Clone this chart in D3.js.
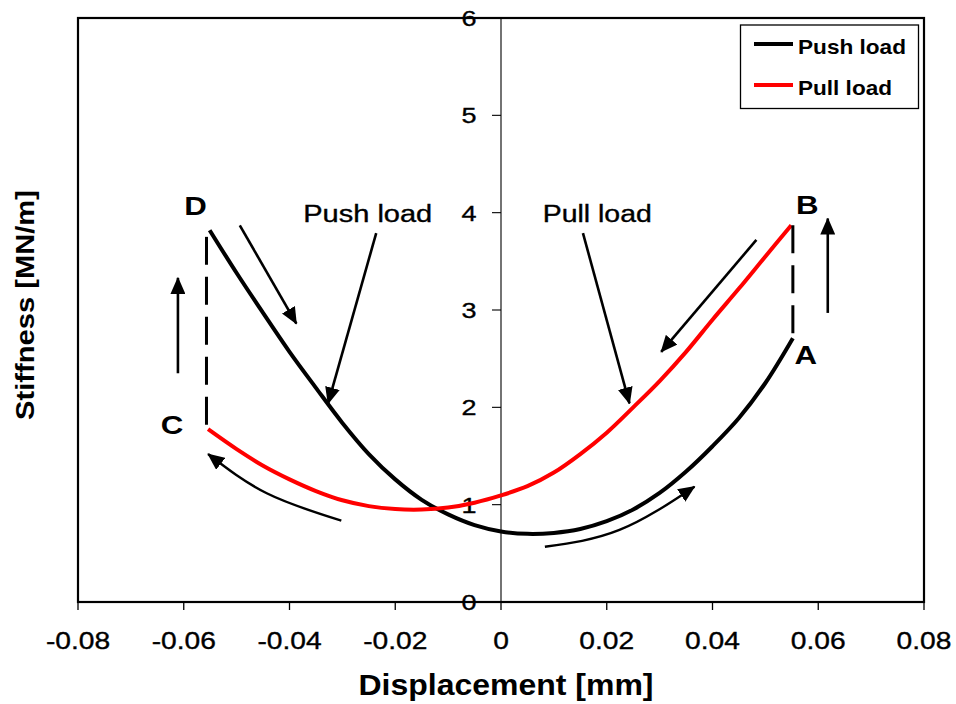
<!DOCTYPE html>
<html>
<head>
<meta charset="utf-8">
<script src="https://cdn.jsdelivr.net/npm/d3@7"></script>
<style>
  html, body { margin: 0; padding: 0; background: #fff; }
  svg { display: block; font-family: "Liberation Sans", Arial, sans-serif; }
  .reg { fill: #000; stroke: #000; stroke-width: 0.35px; }
</style>
</head>
<body>
<svg id="chart" width="956" height="704"></svg>
<script>
// Axis ticks
const xTicks = [-0.08, -0.06, -0.04, -0.02, 0, 0.02, 0.04, 0.06, 0.08];
const yTicks = [0, 1, 2, 3, 4, 5, 6];

// Push load branch (D -> A), displacement [mm] vs stiffness [MN/m]
const pushX = [-0.0551, -0.050, -0.045, -0.040, -0.035, -0.030, -0.025, -0.020, -0.015, -0.010, -0.005, 0.000, 0.005, 0.010, 0.015, 0.020, 0.025, 0.030, 0.035, 0.040, 0.045, 0.050, 0.0552];
const pushY = [3.82, 3.38, 2.97, 2.57, 2.20, 1.84, 1.52, 1.26, 1.05, 0.90, 0.79, 0.725, 0.70, 0.71, 0.75, 0.83, 0.95, 1.12, 1.34, 1.60, 1.89, 2.25, 2.71];

// Pull load branch (B -> C)
const pullX = [-0.0554, -0.050, -0.045, -0.040, -0.035, -0.030, -0.025, -0.020, -0.015, -0.010, -0.005, 0.000, 0.005, 0.010, 0.015, 0.020, 0.025, 0.030, 0.035, 0.040, 0.045, 0.050, 0.0549];
const pullY = [1.775, 1.57, 1.40, 1.26, 1.14, 1.045, 0.985, 0.955, 0.95, 0.97, 1.02, 1.095, 1.19, 1.33, 1.52, 1.74, 2.00, 2.27, 2.57, 2.90, 3.22, 3.55, 3.87];

// Stiffness jumps at the reversal points (A -> B and C -> D)
const jumpAB = [[0.0552, 2.76], [0.0552, 3.89]];
const jumpCD = [[-0.0557, 1.82], [-0.0557, 3.77]];

// Direction arrows [x, y] in data units (last point carries the head)
const straightArrows = [
  [[-0.0611, 2.35], [-0.0611, 3.33]],
  [[0.0618, 2.97], [0.0618, 3.94]],
  [[-0.0494, 3.87], [-0.0387, 2.86]],
  [[-0.0236, 3.79], [-0.0327, 2.04]],
  [[0.0155, 3.79], [0.0243, 2.04]],
  [[0.0483, 3.72], [0.0303, 2.57]]
];
const curvedArrows = [
  [[-0.0302, 0.836], [-0.0443, 1.117], [-0.0554, 1.52]],
  [[0.0083, 0.568], [0.0224, 0.74], [0.0366, 1.185]]
];

// Point labels and branch captions
const pointLabels = [
  { text: "D", x: -0.0551, y: 3.82 },
  { text: "C", x: -0.0554, y: 1.775 },
  { text: "B", x: 0.0549, y: 3.87 },
  { text: "A", x: 0.0552, y: 2.71 }
];
const captions = [
  { text: "Push load", x: -0.0374, y: 3.905 },
  { text: "Pull load", x: 0.0079, y: 3.905 }
];
const legendItems = [
  { text: "Push load", color: "#000000" },
  { text: "Pull load", color: "#ff0000" }
];

const svg = d3.select("#chart");
const plotLeft = 78, plotRight = 924, plotTop = 18, plotBottom = 602;

const x = d3.scaleLinear().domain([-0.08, 0.08]).range([plotLeft, plotRight]);
const y = d3.scaleLinear().domain([0, 6]).range([plotBottom, plotTop]);

// Arrow head marker
svg.append("defs").append("marker")
  .attr("id", "head")
  .attr("markerUnits", "userSpaceOnUse")
  .attr("viewBox", "0 0 17 15")
  .attr("refX", 16).attr("refY", 7.5)
  .attr("markerWidth", 17).attr("markerHeight", 15)
  .attr("orient", "auto")
  .append("path").attr("d", "M0,0 L17,7.5 L0,15 Z").attr("fill", "#000");

// Plot frame
svg.append("rect")
  .attr("x", plotLeft).attr("y", plotTop)
  .attr("width", plotRight - plotLeft).attr("height", plotBottom - plotTop)
  .attr("fill", "none").attr("stroke", "#000").attr("stroke-width", 2.2);

// Vertical axis at zero displacement
svg.append("line")
  .attr("x1", x(0)).attr("x2", x(0)).attr("y1", y(6)).attr("y2", y(0))
  .attr("stroke", "#000").attr("stroke-width", 1.1);

// Y ticks and labels
svg.append("g").selectAll("line").data(yTicks).join("line")
  .attr("x1", x(0) - 9).attr("x2", x(0))
  .attr("y1", d => y(d)).attr("y2", d => y(d))
  .attr("stroke", "#000").attr("stroke-width", 1.1);
svg.append("g").selectAll("text").data(yTicks).join("text")
  .attr("class", "reg")
  .attr("transform", d => `translate(${x(0) - 24.5},${y(d) + 8}) scale(1.2,1)`)
  .attr("text-anchor", "end")
  .attr("font-size", 22.5)
  .text(d => d);

// X ticks and labels
svg.append("g").selectAll("line").data(xTicks).join("line")
  .attr("x1", d => x(d)).attr("x2", d => x(d))
  .attr("y1", plotBottom).attr("y2", plotBottom + 8)
  .attr("stroke", "#000").attr("stroke-width", 1.3);
svg.append("g").selectAll("text").data(xTicks).join("text")
  .attr("class", "reg")
  .attr("transform", d => `translate(${x(d)},${plotBottom + 46.5}) scale(1.2,1)`)
  .attr("text-anchor", "middle")
  .attr("font-size", 23.5)
  .text(d => d === 0 ? "0" : d.toFixed(2));

// Axis titles
svg.append("text")
  .attr("x", (plotLeft + plotRight) / 2 + 5).attr("y", 695)
  .attr("text-anchor", "middle")
  .attr("font-size", 30).attr("font-weight", "bold")
  .attr("textLength", 295).attr("lengthAdjust", "spacingAndGlyphs")
  .text("Displacement [mm]");
svg.append("text")
  .attr("transform", `translate(34,305) rotate(-90)`)
  .attr("text-anchor", "middle")
  .attr("font-size", 26).attr("font-weight", "bold")
  .attr("textLength", 230).attr("lengthAdjust", "spacingAndGlyphs")
  .text("Stiffness [MN/m]");

// Curves
const line = d3.line().x(d => x(d[0])).y(d => y(d[1])).curve(d3.curveCatmullRom.alpha(0.5));
const pushPts = pushX.map((v, i) => [v, pushY[i]]);
const pullPts = pullX.map((v, i) => [v, pullY[i]]);

svg.append("path").datum(pushPts).attr("d", line)
  .attr("fill", "none").attr("stroke", "#000").attr("stroke-width", 4);
svg.append("path").datum(pullPts).attr("d", line)
  .attr("fill", "none").attr("stroke", "#ff0000").attr("stroke-width", 4);

// Dashed jumps
const seg = d3.line().x(d => x(d[0])).y(d => y(d[1]));
[jumpAB, jumpCD].forEach(j => {
  svg.append("path").datum(j).attr("d", seg)
    .attr("fill", "none").attr("stroke", "#000").attr("stroke-width", 3)
    .attr("stroke-dasharray", "28,12");
});

// Direction arrows
straightArrows.forEach(a => {
  svg.append("path").datum(a).attr("d", seg)
    .attr("fill", "none").attr("stroke", "#000").attr("stroke-width", 2.6)
    .attr("marker-end", "url(#head)");
});
const bend = d3.line().x(d => x(d[0])).y(d => y(d[1])).curve(d3.curveNatural);
curvedArrows.forEach(a => {
  svg.append("path").datum(a).attr("d", bend)
    .attr("fill", "none").attr("stroke", "#000").attr("stroke-width", 2.4)
    .attr("marker-end", "url(#head)");
});

// Point labels
const labelOffset = { D: [-14, -15], C: [-36, 5], B: [16, -11], A: [13, 26] };
svg.append("g").selectAll("text").data(pointLabels).join("text")
  .attr("transform", d => `translate(${x(d.x) + labelOffset[d.text][0]},${y(d.y) + labelOffset[d.text][1]}) scale(1.25,1)`)
  .attr("text-anchor", "middle")
  .attr("font-size", 25).attr("font-weight", "bold")
  .text(d => d.text);

// Branch captions
svg.append("g").selectAll("text").data(captions).join("text")
  .attr("class", "reg")
  .attr("x", d => x(d.x)).attr("y", d => y(d.y))
  .attr("font-size", 23)
  .attr("textLength", (d, i) => i === 0 ? 129 : 109)
  .attr("lengthAdjust", "spacingAndGlyphs")
  .text(d => d.text);

// Legend
const lg = svg.append("g");
lg.append("rect")
  .attr("x", 740.5).attr("y", 25).attr("width", 178).attr("height", 83.5)
  .attr("fill", "#fff").attr("stroke", "#000").attr("stroke-width", 1.3);
legendItems.forEach((it, i) => {
  const cy = 44 + i * 41;
  lg.append("line")
    .attr("x1", 754).attr("x2", 793).attr("y1", cy).attr("y2", cy)
    .attr("stroke", it.color).attr("stroke-width", 4);
  lg.append("text")
    .attr("x", 798).attr("y", cy + 9.5)
    .attr("font-size", 21).attr("font-weight", "bold")
    .attr("textLength", i === 0 ? 108 : 94).attr("lengthAdjust", "spacingAndGlyphs")
    .text(it.text);
});
</script>
</body>
</html>
